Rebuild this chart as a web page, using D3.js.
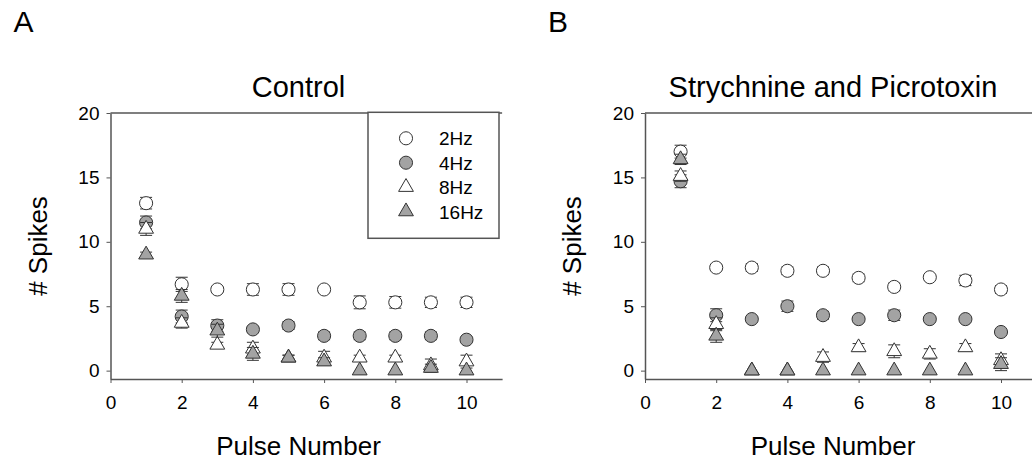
<!DOCTYPE html>
<html>
<head>
<meta charset="utf-8">
<title>Spikes per pulse</title>
<script src="https://cdnjs.cloudflare.com/ajax/libs/d3/7.8.5/d3.min.js"></script>
<style>
  body { margin: 0; background: #fff; }
  svg { display: block; font-family: "Liberation Sans", Arial, sans-serif; }
  .tick text { font-size: 19px; fill: #000; }
</style>
</head>
<body>
<svg id="chart" width="1032" height="472"></svg>
<script>
// pulse numbers
const pulses = [1, 2, 3, 4, 5, 6, 7, 8, 9, 10];
const seriesNames = ["2Hz", "4Hz", "8Hz", "16Hz"];

// Control
const ctl2Hz  = [13.0, 6.7, 6.3, 6.3, 6.3, 6.3, 5.3, 5.3, 5.3, 5.3];
const ctl4Hz  = [11.5, 4.2, 3.5, 3.2, 3.5, 2.7, 2.7, 2.7, 2.7, 2.4];
const ctl8Hz  = [11.0, 3.7, 2.0, 1.7, 1.0, 1.0, 1.0, 1.0, 0.4, 0.7];
const ctl16Hz = [9.0, 5.8, 3.1, 1.3, 1.0, 0.7, 0.0, 0.0, 0.2, 0.0];
const ctl2HzErr  = [0.45, 0.55, 0.2, 0.45, 0.45, 0.2, 0.5, 0.45, 0.4, 0.4];
const ctl4HzErr  = [0.5, 0.5, 0.45, 0.2, 0.3, 0.3, 0.3, 0.3, 0.3, 0.2];
const ctl8HzErr  = [0.5, 0.4, 0.2, 0.5, 0.2, 0.5, 0.2, 0.2, 0.5, 0.5];
const ctl16HzErr = [0.2, 0.5, 0.5, 0.5, 0.2, 0.3, 0.0, 0.0, 0.3, 0.0];

// Strychnine and Picrotoxin
const sp2Hz  = [17.0, 8.0, 8.0, 7.75, 7.75, 7.2, 6.5, 7.25, 7.0, 6.3];
const sp4Hz  = [14.7, 4.3, 4.0, 5.0, 4.3, 4.0, 4.3, 4.0, 4.0, 3.0];
const sp8Hz  = [15.1, 3.6, 0.0, 0.0, 1.05, 1.8, 1.5, 1.3, 1.8, 0.8];
const sp16Hz = [16.4, 2.7, 0.0, 0.0, 0.0, 0.0, 0.0, 0.0, 0.0, 0.5];
const sp2HzErr  = [0.5, 0.2, 0.3, 0.3, 0.3, 0.3, 0.3, 0.2, 0.4, 0.3];
const sp4HzErr  = [0.5, 0.5, 0.2, 0.4, 0.3, 0.2, 0.4, 0.2, 0.2, 0.2];
const sp8HzErr  = [0.4, 0.5, 0.0, 0.0, 0.4, 0.3, 0.5, 0.4, 0.3, 0.5];
const sp16HzErr = [0.4, 0.5, 0.0, 0.0, 0.0, 0.0, 0.0, 0.0, 0.0, 0.5];

const xTicks = [0, 2, 4, 6, 8, 10];
const yTicks = [0, 5, 10, 15, 20];

const svg = d3.select("#chart");
const gray = "#a3a3a3";
const ink = "#333";
const axisCol = "#555";

// marker style per series: circle/triangle, open/filled
const styles = [
  { shape: d3.symbolCircle,   fill: "#fff" },
  { shape: d3.symbolCircle,   fill: gray },
  { shape: d3.symbolTriangle, fill: "#fff" },
  { shape: d3.symbolTriangle, fill: gray }
];
const symSize = [135, 135, 95, 95];

function panel(ox, letter, title, values, errs, withLegend) {
  const pw = 391.6;
  const x = d3.scaleLinear().domain([0, 11]).range([ox, ox + pw]);
  const y = d3.scaleLinear().domain([-0.65, 20]).range([379, 113]);
  const g = svg.append("g");

  // frame top
  g.append("line").attr("x1", ox).attr("x2", ox + pw)
    .attr("y1", y(20)).attr("y2", y(20))
    .attr("stroke", axisCol).attr("stroke-width", 1.5);

  const ya = g.append("g").attr("transform", `translate(${ox},0)`)
    .call(d3.axisLeft(y).tickValues(yTicks).tickSize(4).tickSizeOuter(0).tickPadding(7));
  const xa = g.append("g").attr("transform", `translate(0,${y.range()[0]})`)
    .call(d3.axisBottom(x).tickValues(xTicks).tickSize(4).tickSizeOuter(0).tickPadding(13));
  [ya, xa].forEach(a => {
    a.select(".domain").attr("stroke", axisCol).attr("stroke-width", 1.5);
    a.selectAll(".tick line").attr("stroke", axisCol);
  });

  // error bars then markers, series in order
  values.forEach((vals, s) => {
    const pts = pulses.map((p, i) => ({ p: p, v: vals[i], e: errs[s][i] }));
    const eb = g.append("g").attr("stroke", ink).attr("stroke-width", 1);
    pts.filter(d => d.e > 0).forEach(d => {
      eb.append("line").attr("x1", x(d.p)).attr("x2", x(d.p))
        .attr("y1", y(d.v - d.e)).attr("y2", y(d.v + d.e));
      [d.v - d.e, d.v + d.e].forEach(v => {
        eb.append("line").attr("x1", x(d.p) - 6).attr("x2", x(d.p) + 6)
          .attr("y1", y(v)).attr("y2", y(v));
      });
    });
    g.append("g").selectAll("path").data(pts).join("path")
      .attr("transform", d => `translate(${x(d.p)},${y(d.v)})`)
      .attr("d", d3.symbol(styles[s].shape, symSize[s]))
      .attr("fill", styles[s].fill)
      .attr("stroke", ink).attr("stroke-width", 1);
  });

  // texts
  svg.append("text").attr("x", ox - 97).attr("y", 32)
    .attr("font-size", 30).text(letter);
  svg.append("text").attr("x", ox + 188).attr("y", 97)
    .attr("text-anchor", "middle").attr("font-size", 29).text(title);
  svg.append("text").attr("x", ox + 188).attr("y", 455)
    .attr("text-anchor", "middle").attr("font-size", 26).text("Pulse Number");
  svg.append("text")
    .attr("transform", `translate(${ox - 64},${(y(20) + y.range()[0]) / 2}) rotate(-90)`)
    .attr("text-anchor", "middle").attr("font-size", 26).text("# Spikes");

  if (withLegend) {
    const lg = g.append("g");
    lg.append("rect").attr("x", ox + 257.5).attr("y", 112.3)
      .attr("width", 131).attr("height", 126)
      .attr("fill", "#fff").attr("stroke", axisCol).attr("stroke-width", 1.5);
    seriesNames.forEach((n, s) => {
      const cy = 138.3 + s * 24.4;
      lg.append("path").attr("transform", `translate(${ox + 295.5},${cy})`)
        .attr("d", d3.symbol(styles[s].shape, symSize[s]))
        .attr("fill", styles[s].fill).attr("stroke", ink);
      lg.append("text").attr("x", ox + 328.5).attr("y", cy + 7)
        .attr("font-size", 19).text(n);
    });
  }
}

panel(110.5, "A", "Control",
  [ctl2Hz, ctl4Hz, ctl8Hz, ctl16Hz],
  [ctl2HzErr, ctl4HzErr, ctl8HzErr, ctl16HzErr], true);
panel(645, "B", "Strychnine and Picrotoxin",
  [sp2Hz, sp4Hz, sp8Hz, sp16Hz],
  [sp2HzErr, sp4HzErr, sp8HzErr, sp16HzErr], false);
</script>
</body>
</html>
